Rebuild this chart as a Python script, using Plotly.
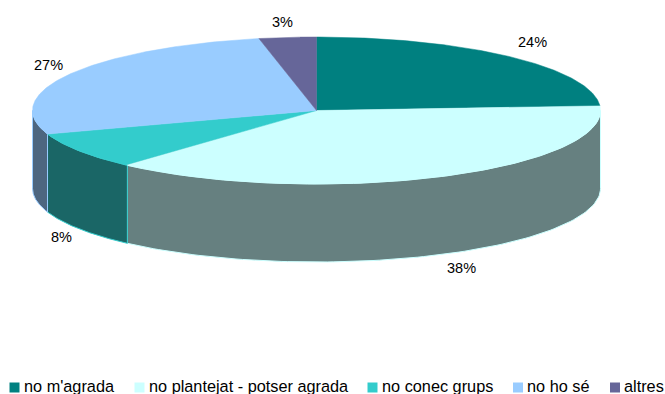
import numpy as np
import plotly.graph_objects as go

categories = ["no m'agrada", "no plantejat - potser agrada", "no conec grups", "no ho sé", "altres"]
values = [24.0, 37.6, 8.2, 26.95, 3.25]
top_colors = ["#008080", "#CCFFFF", "#33CCCC", "#99CCFF", "#666699"]
side_colors = ["#004040", "#668080", "#1A6666", "#4D6680", "#333350"]
label_xy = [(532, 42), (461, 268), (61, 237), (48, 65), (282, 22)]
legend_swatch_x = [14.5, 139.5, 372.5, 518, 615]
legend_text_x = [24, 149, 382, 527, 624]

W, H = 665, 394
CX, CY, RX, RY, DEPTH = 316.5, 110.5, 284, 73.5, 78
LEGEND_Y = 385.5


def ell(a):
    r = np.radians(a)
    return CX + RX * np.sin(r), CY - RY * np.cos(r)


fig = go.Figure()
total = sum(values)
edges = np.concatenate([[0], np.cumsum(values) / total * 360])

# side walls (only the front half of the rim is visible)
for i in range(len(values)):
    a0, a1 = max(edges[i], 90), min(edges[i + 1], 270)
    if a1 <= a0:
        continue
    t = np.linspace(a0, a1, 100)
    x, y = ell(t)
    fig.add_trace(go.Scatter(
        x=np.concatenate([x, x[::-1], x[:1]]),
        y=np.concatenate([y, y[::-1] + DEPTH, y[:1]]),
        mode="lines", fill="toself", fillcolor=side_colors[i],
        line=dict(color=top_colors[i], width=1),
        hoverinfo="skip", showlegend=False))

# top faces
for i in range(len(values)):
    t = np.linspace(edges[i], edges[i + 1], 150)
    x, y = ell(t)
    fig.add_trace(go.Scatter(
        x=np.concatenate([[CX], x, [CX]]),
        y=np.concatenate([[CY], y, [CY]]),
        mode="lines", fill="toself", fillcolor=top_colors[i],
        line=dict(color=top_colors[i], width=0.5),
        hoverinfo="skip", showlegend=False))

# legend row, drawn in the same pixel-scaled axes
fig.add_trace(go.Scatter(
    x=legend_swatch_x, y=[LEGEND_Y + 2] * len(categories), mode="markers",
    marker=dict(symbol="square", size=10, color=top_colors, line=dict(width=0)),
    cliponaxis=False, hoverinfo="skip", showlegend=False))

for name, lx in zip(categories, legend_text_x):
    fig.add_annotation(x=lx, y=LEGEND_Y, text=name, showarrow=False, xanchor="left", xshift=-2,
                       font=dict(family="Liberation Sans", size=16.3, color="#000000"))

for v, (lx, ly) in zip(values, label_xy):
    fig.add_annotation(x=lx, y=ly, text=f"{round(v / total * 100)}%", showarrow=False,
                       font=dict(family="Liberation Sans", size=14.5, color="#000000"))

fig.update_layout(
    width=W, height=H, margin=dict(l=0, r=0, t=0, b=0),
    autosize=False, showlegend=False,
    paper_bgcolor="white", plot_bgcolor="white",
    xaxis=dict(range=[0, W], visible=False, fixedrange=True),
    yaxis=dict(range=[H, 0], visible=False, fixedrange=True),
)
fig.write_html("out.html", config={"displayModeBar": False},
               post_script="document.body.style.margin='0';document.body.style.overflow='hidden';")
